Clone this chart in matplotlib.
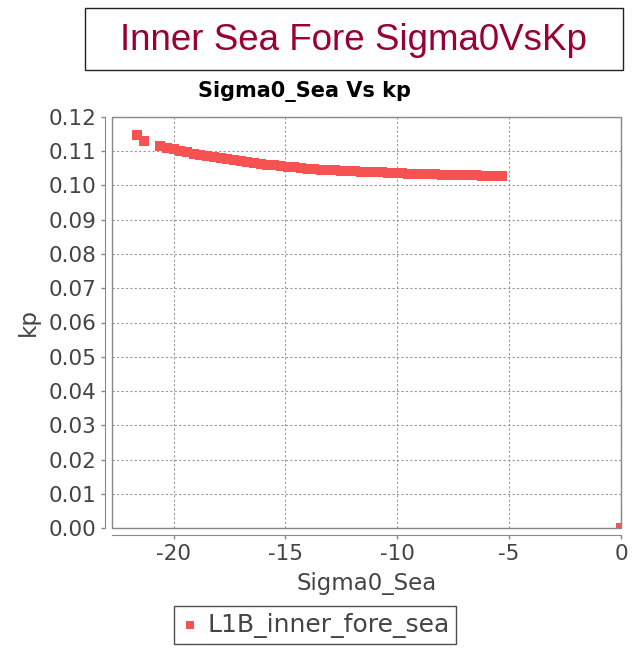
import matplotlib.pyplot as plt
from matplotlib.patches import Rectangle

# values
sigma0 = [-21.65, -21.33,
          -20.6, -20.3, -20.0, -19.7, -19.4, -19.1, -18.8, -18.5, -18.2, -17.9,
          -17.6, -17.3, -17.0, -16.7, -16.4, -16.1, -15.8, -15.5, -15.2, -14.9,
          -14.6, -14.3, -14.0, -13.7, -13.4, -13.1, -12.8, -12.5, -12.2, -11.9,
          -11.6, -11.3, -11.0, -10.7, -10.4, -10.1, -9.8, -9.5, -9.2, -8.9,
          -8.6, -8.3, -8.0, -7.7, -7.4, -7.1, -6.8, -6.5, -6.2, -5.9, -5.6, -5.3,
          0.0]
kp = [0.1147, 0.1130,
      0.1115, 0.1110, 0.1106, 0.1101, 0.1097, 0.1092, 0.1089, 0.1086, 0.1082, 0.1079,
      0.1077, 0.1074, 0.1071, 0.1068, 0.1066, 0.1064, 0.1061, 0.1059, 0.1057, 0.1055,
      0.1053, 0.1051, 0.1049, 0.1048, 0.1046, 0.1045, 0.1044, 0.1043, 0.1042, 0.1041,
      0.1040, 0.1039, 0.1039, 0.1038, 0.1037, 0.1037, 0.1036, 0.1035, 0.1035, 0.1034,
      0.1033, 0.1033, 0.1032, 0.1032, 0.1031, 0.1031, 0.1030, 0.1030, 0.1029, 0.1029,
      0.1028, 0.1028,
      0.0]
xticks = [-20, -15, -10, -5, 0]
yticks = [0.00, 0.01, 0.02, 0.03, 0.04, 0.05, 0.06, 0.07, 0.08, 0.09, 0.10, 0.11, 0.12]

red = '#f75252'
grey = '#444444'

fig = plt.figure(figsize=(6.34, 6.5), dpi=100)

# big title in a box
fig.patches.append(Rectangle((85/634, 1-70/650), 538/634, 62/650, transform=fig.transFigure,
                             fill=False, edgecolor='#222222', linewidth=1.0))
fig.text(353/634, 1-40/650, 'Inner Sea Fore Sigma0VsKp', ha='center', va='center',
         color='#990033', fontsize=26.5, family='Liberation Sans')

ax = fig.add_axes([112/634, 1-528/650, 509/634, 411/650])
ax.scatter(sigma0, kp, marker='s', s=52, color=red, linewidths=0, zorder=3,
           label='L1B_inner_fore_sea')

ax.set_xlim(-22.75, 0)
ax.set_ylim(0, 0.12)
ax.set_xticks(xticks)
ax.set_yticks(yticks)
ax.set_xticklabels([str(t) for t in xticks])
ax.set_yticklabels(['%.2f' % t for t in yticks])
ax.tick_params(colors='#888888', labelcolor=grey, labelsize=15.5, length=3, width=1)
ax.grid(True, linestyle=(0, (2, 2)), color='#999999', linewidth=0.8)

# jfreechart style: axis lines sit a bit off the plot border
for s in ['top', 'right']:
    ax.spines[s].set_visible(False)
for s in ['left', 'bottom']:
    ax.spines[s].set_position(('outward', 5))
    ax.spines[s].set_color('#888888')
ax.add_patch(Rectangle((0, 0), 1, 1, transform=ax.transAxes, fill=False,
                       edgecolor='#888888', linewidth=1.0, clip_on=False, zorder=4))

fig.text(304/634, 1-92/650, 'Sigma0_Sea Vs kp', ha='center', va='center',
         fontsize=15, fontweight='bold')
ax.set_xlabel('Sigma0_Sea', fontsize=16.5, color=grey, labelpad=6)
ax.set_ylabel('kp', fontsize=16.5, color=grey, labelpad=6)

leg = ax.legend(loc='center', bbox_to_anchor=(315/634, 1-625/650), bbox_transform=fig.transFigure,
                fontsize=18, frameon=True, fancybox=False, handletextpad=0.3, borderpad=0.25,
                markerscale=0.8, handlelength=0.8)
leg.get_frame().set_edgecolor('#222222')
for t in leg.get_texts():
    t.set_color(grey)

fig.savefig('out.png', dpi=100)
